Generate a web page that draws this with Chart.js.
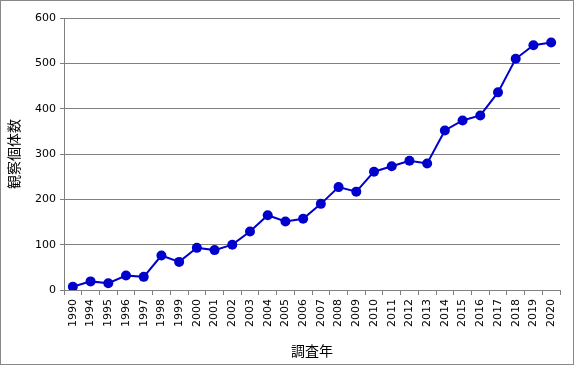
<!DOCTYPE html>
<html>
<head>
<meta charset="utf-8">
<script src="https://cdn.jsdelivr.net/npm/chart.js@4"></script>
<style>
  html, body { margin: 0; padding: 0; background: #fff; }
  #box { width: 572px; height: 363px; border: 1px solid #888; position: relative; }
  canvas { display: block; }
</style>
</head>
<body>
<div id="box"><canvas id="chart" width="572" height="363"></canvas></div>
<script>
'use strict';

// ── DATA ──
const years = ['1990', '1994', '1995', '1996', '1997', '1998', '1999', '2000', '2001', '2002',
  '2003', '2004', '2005', '2006', '2007', '2008', '2009', '2010', '2011', '2012',
  '2013', '2014', '2015', '2016', '2017', '2018', '2019', '2020'];
const counts = [7, 19, 15, 32, 29, 76, 62, 93, 88, 100,
  129, 165, 151, 157, 190, 227, 217, 261, 273, 285,
  279, 352, 374, 385, 436, 510, 540, 546];
const yTicks = [0, 100, 200, 300, 400, 500, 600];

const LINE = '#0000cc';
const GRID = '#808080';
const NUM_FONT = { family: '"DejaVu Sans", sans-serif', size: 11 };
const JP_FONT = { family: '"Noto Sans CJK JP", sans-serif', size: 14 };

new Chart(document.getElementById('chart').getContext('2d'), {
  type: 'line',
  data: {
    labels: years,
    datasets: [{
      data: counts,
      borderColor: LINE,
      backgroundColor: LINE,
      borderWidth: 2,
      pointRadius: 5,
      pointBorderWidth: 0,
      pointBackgroundColor: LINE,
      tension: 0,
    }],
  },
  options: {
    responsive: false,
    animation: false,
    layout: { padding: { left: 0, right: 13, top: 17, bottom: 0 } },
    plugins: { legend: { display: false }, tooltip: { enabled: false } },
    scales: {
      x: {
        offset: true,
        grid: { offset: true, drawOnChartArea: false, color: GRID, tickLength: 5 },
        border: { color: GRID, width: 1 },
        ticks: { color: '#000', font: NUM_FONT, minRotation: 90, maxRotation: 90, autoSkip: false, padding: 4 },
        title: { display: true, text: '調査年', color: '#000', font: JP_FONT, padding: { top: 8, bottom: 5 } },
        afterFit: (s) => { s.height = 74; },
      },
      y: {
        min: 0,
        max: 600,
        afterBuildTicks: (s) => { s.ticks = yTicks.map(v => ({ value: v })); },
        grid: { color: GRID, tickLength: 4 },
        border: { color: GRID, width: 1 },
        ticks: { color: '#000', font: NUM_FONT, padding: 4 },
        title: { display: true, text: '観察個体数', color: '#000', font: JP_FONT, padding: { bottom: 4 } },
        afterFit: (s) => { s.width = 63; },
      },
    },
  },
});
</script>
</body>
</html>
